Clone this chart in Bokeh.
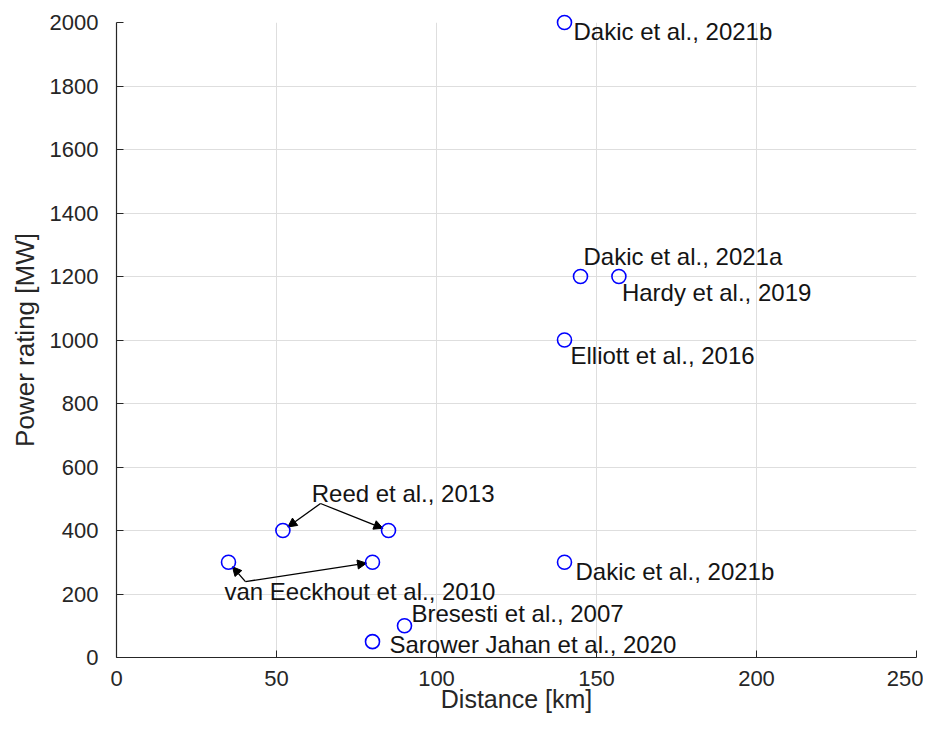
import math
from bokeh.plotting import figure
from bokeh.models import Range1d, FixedTicker, ColumnDataSource, Arrow, NormalHead, Label
from bokeh.core.properties import value
from bokeh.embed import file_html
from bokeh.resources import INLINE

# ---- data ----
DIST = [140, 145, 157, 140, 52, 85, 35, 80, 140, 90, 80]
POWER = [2000, 1200, 1200, 1000, 400, 400, 300, 300, 300, 100, 50]

# simple labels: index of point, text
LABEL_IDX = [0, 1, 2, 3, 8, 9, 10]
LABEL_TEXT = ["Dakic et al., 2021b", "Dakic et al., 2021a", "Hardy et al., 2019",
              "Elliott et al., 2016", "Dakic et al., 2021b", "Bresesti et al., 2007",
              "Sarower Jahan et al., 2020"]

# arrow annotations: text, target point indices
ANNOT_TEXT = ["Reed et al., 2013", "van Eeckhout et al., 2010"]
ANNOT_TARGETS = [[4, 5], [6, 7]]

X_TICKS = [0, 50, 100, 150, 200, 250]
Y_TICKS = [0, 200, 400, 600, 800, 1000, 1200, 1400, 1600, 1800, 2000]
X_TITLE = "Distance [km]"
Y_TITLE = "Power rating [MW]"

# ---- layout / style ----
W, H = 923, 718
BL, BT = 116, 22
BR = W - 916
BB = H - 657
LABEL_OFFSETS = [(9, 9), (3, -20), (3, 16), (6, 15), (11, 9), (7, -12), (17, 3)]
ANNOT_LABEL_POS = [(61, 517), (33.75, 208)]
ANNOT_TAIL_POS = [(63.75, 485), (40.3, 239)]

FONT = "Liberation Sans"
AX_COL = "#262626"
GRID_COL = "#dedede"
TXT_COL = "#141414"

p = figure(width=W, height=H, output_backend="svg", toolbar_location=None,
           x_range=Range1d(0, 250), y_range=Range1d(0, 2000),
           min_border_left=BL, min_border_right=BR, min_border_top=BT, min_border_bottom=BB)
p.outline_line_color = None
p.background_fill_color = "white"
p.border_fill_color = "white"

for ax, ticks in ((p.xaxis[0], X_TICKS), (p.yaxis[0], Y_TICKS)):
    ax.ticker = FixedTicker(ticks=ticks)
    ax.minor_tick_line_color = None
    ax.major_tick_in = 7
    ax.major_tick_out = 0
    ax.axis_line_color = AX_COL
    ax.axis_line_width = 1.2
    ax.major_tick_line_color = AX_COL
    ax.major_label_text_font = FONT
    ax.major_label_text_font_size = "22px"
    ax.major_label_text_color = AX_COL
    ax.axis_label_text_font = FONT
    ax.axis_label_text_font_size = "26px"
    ax.axis_label_text_font_style = "normal"
    ax.axis_label_text_color = AX_COL

p.xaxis.axis_label = X_TITLE
p.yaxis.axis_label = Y_TITLE
p.xaxis.axis_label_text_font_size = "25px"
p.xaxis.major_label_standoff = 13
p.xaxis.axis_label_standoff = -4
p.yaxis.major_label_standoff = 18
p.yaxis.axis_label_standoff = 7

for g in (p.xgrid[0], p.ygrid[0]):
    g.grid_line_color = GRID_COL
    g.grid_line_width = 1

fw = W - BL - BR
fh = H - BT - BB
sx = fw / 250.0
sy = fh / 2000.0

src = ColumnDataSource(dict(x=DIST, y=POWER))
p.scatter("x", "y", source=src, marker="circle", size=14, fill_color=None,
          line_color="#0000ff", line_width=1.6, level="overlay")

lab_src = ColumnDataSource(dict(
    x=[DIST[i] for i in LABEL_IDX],
    y=[POWER[i] for i in LABEL_IDX],
    t=LABEL_TEXT,
    xo=[o[0] for o in LABEL_OFFSETS],
    yo=[o[1] for o in LABEL_OFFSETS],
))
p.text("x", "y", text="t", source=lab_src, x_offset="xo", y_offset="yo",
       text_font=value(FONT), text_font_size="24px", text_color=TXT_COL,
       text_align="left", text_baseline="middle")

# arrow annotations
for txt, lp, tp, targets in zip(ANNOT_TEXT, ANNOT_LABEL_POS, ANNOT_TAIL_POS, ANNOT_TARGETS):
    p.add_layout(Label(x=lp[0], y=lp[1], text=txt, text_font=FONT, text_font_size="24px",
                       text_color=TXT_COL, text_align="left", text_baseline="middle"))
    for i in targets:
        ex, ey = DIST[i], POWER[i]
        dxp = (ex - tp[0]) * sx
        dyp = (ey - tp[1]) * sy
        d = math.hypot(dxp, dyp)
        shrink = 6.0
        ex2 = ex - dxp / d * shrink / sx
        ey2 = ey - dyp / d * shrink / sy
        p.add_layout(Arrow(x_start=tp[0], y_start=tp[1], x_end=ex2, y_end=ey2,
                           line_color="black", line_width=1.3,
                           end=NormalHead(size=9, fill_color="black", line_color="black")))

open("out.html", "w").write(file_html(p, INLINE))
